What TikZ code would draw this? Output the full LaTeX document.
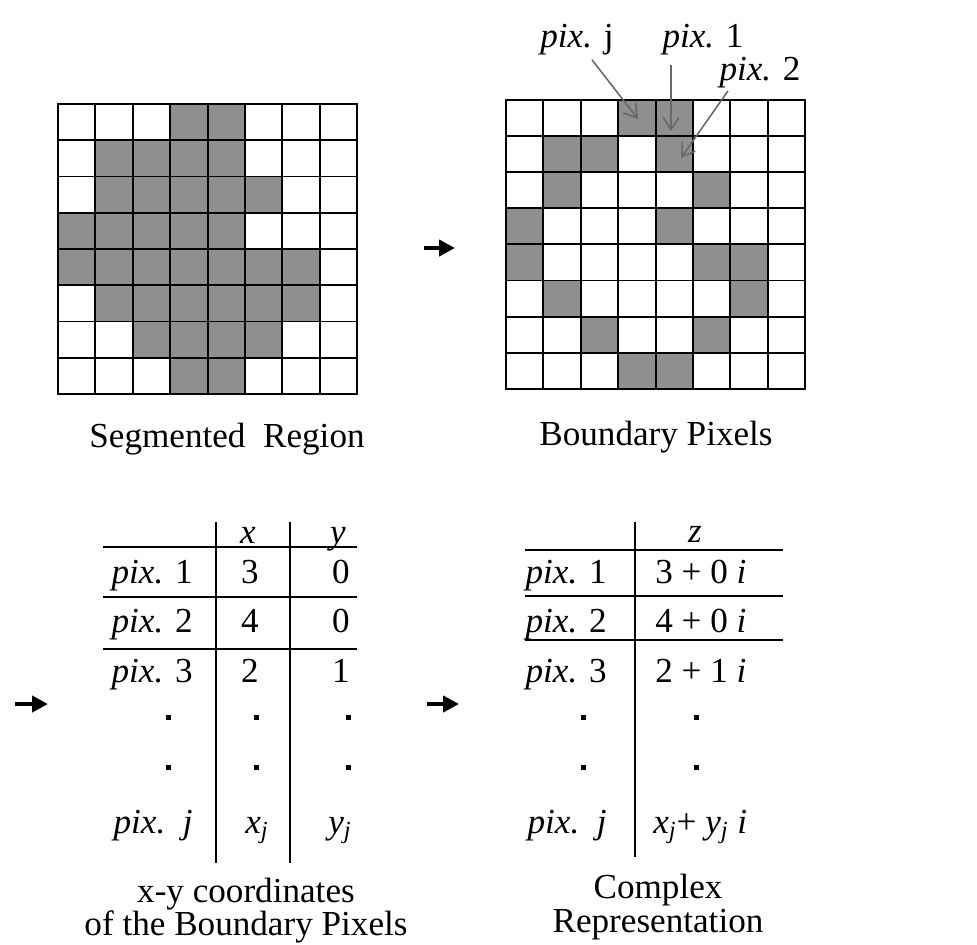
\documentclass[tikz,border=0pt]{standalone}
\usepackage{fontspec}
\setmainfont{Liberation Serif}
\usepackage{tikz}
\usetikzlibrary{arrows.meta, calc, positioning}
\usepackage{xcolor}
\definecolor{pixGray}{RGB}{143,143,143}
\definecolor{pointerGray}{RGB}{105,105,105}
\setlength{\lineskiplimit}{-20pt}

\begin{document}
\begin{tikzpicture}[
  x=0.02cm, y=-0.02cm,
  txt/.style={inner sep=0pt, font=\fontsize{20}{18}\selectfont},
  caption/.style={inner sep=0pt, align=center, anchor=north,
    font=\fontsize{20}{#1}\selectfont},
  dot/.style={fill=black, inner sep=0pt, minimum size=0.1cm},
  cellfill/.style={fill=pixGray},
  gridline/.style={line width=1.1pt, line cap=rect},
  rule/.style={line width=1.2pt},
  arr/.style={-{Triangle[length=9pt,width=9pt]}, line width=2.3pt},
  pointer/.style={-{Straight Barb[length=7pt,width=9pt]}, pointerGray, line width=0.9pt}
]
  \useasboundingbox (0,0) rectangle (977,944);

  % Segmented region
  \begin{scope}[shift={(58,104)}, x=0.748cm, y=-0.725cm]
    \foreach \r/\cs in {0/{3,4}, 1/{1,2,3,4}, 2/{1,2,3,4,5}, 3/{0,1,2,3,4},
                        4/{0,1,2,3,4,5,6}, 5/{1,2,3,4,5,6}, 6/{2,3,4,5}, 7/{3,4}}
      \foreach \c in \cs
        \fill[cellfill] (\c,\r) rectangle ++(1,1);
    \foreach \i in {0,...,8} {
      \draw[gridline] (\i,0) -- (\i,8);
      \draw[gridline] (0,\i) -- (8,\i);
    }
  \end{scope}

  % Boundary pixels
  \begin{scope}[shift={(506,100)}, x=0.748cm, y=-0.722cm]
    \foreach \r/\cs in {0/{3,4}, 1/{1,2,4}, 2/{1,5}, 3/{0,4},
                        4/{0,5,6}, 5/{1,6}, 6/{2,5}, 7/{3,4}}
      \foreach \c in \cs
        \fill[cellfill] (\c,\r) rectangle ++(1,1);
    \foreach \i in {0,...,8} {
      \draw[gridline] (\i,0) -- (\i,8);
      \draw[gridline] (0,\i) -- (8,\i);
    }
  \end{scope}

  \node[txt, anchor=base] (lblJ) at (577,47) {\textit{pix.} j};
  \node[txt, anchor=base] (lbl1) at (703,47) {\textit{pix.} 1};
  \node[txt, anchor=base] (lbl2) at (760,80) {\textit{pix.} 2};
  \coordinate (tipJ) at (638,119);
  \coordinate (tip1) at (671,131);
  \coordinate (tip2) at (681,158);
  \draw[pointer] ($(lblJ.south)+(15,5)$) -- (tipJ);
  \draw[pointer] ($(lbl1.south)+(-32,10)$) -- (tip1);
  \draw[pointer] ($(lbl2.south)+(-32,3)$) -- (tip2);

  \node[txt, anchor=base] (capSeg) at (227,447) {Segmented\ \ Region};
  \node[txt, anchor=base] (capBnd) at (656,445) {Boundary Pixels};

  \coordinate (a1s) at (424,248);
  \coordinate (a1e) at (455,248);
  \draw[arr] (a1s) -- (a1e);

  % x-y table
  \draw[rule] (216,522) -- (216,863);
  \draw[rule] (290,522) -- (290,863);
  \foreach \yy in {547,597,649}
    \draw[rule] (103,\yy) -- (357,\yy);
  \node[txt, anchor=base] (hx) at (248,543) {\textit{x}};
  \node[txt, anchor=base] (hy) at (338,543) {\textit{y}};
  \foreach \n/\yy/\vx/\vy in {1/583/3/0, 2/632/4/0, 3/682/2/1} {
    \node[txt, anchor=base east] (xyp\n) at (193,\yy) {\textit{pix.} \n};
    \node[txt, anchor=base] (xyx\n) at (250,\yy) {\vx};
    \node[txt, anchor=base east] (xyy\n) at (350,\yy) {\vy};
  }
  \foreach \yy [count=\k] in {717,767} {
    \node[dot] (xyd\k a) at (168,\yy) {};
    \node[dot] (xyd\k b) at (256,\yy) {};
    \node[dot] (xyd\k c) at (348,\yy) {};
  }
  \node[txt, anchor=base east] (xypj) at (193,833) {\textit{pix.}\ \ \textit{j}};
  \node[txt, anchor=base] (xyxj) at (257,833) {\textit{x\textsubscript{j}}};
  \node[txt, anchor=base east] (xyyj) at (352,833) {\textit{y\textsubscript{j}}};
  \node[caption=18.5] (capXY) at (246,878)
    {x-y coordinates\\of the Boundary Pixels};

  \coordinate (a2s) at (15,704);
  \coordinate (a2e) at (48,704);
  \draw[arr] (a2s) -- (a2e);
  \coordinate (a3s) at (427,704);
  \coordinate (a3e) at (459,704);
  \draw[arr] (a3s) -- (a3e);

  % complex table
  \draw[rule] (635,522) -- (635,857);
  \foreach \yy in {550,596,640}
    \draw[rule] (525,\yy) -- (783,\yy);
  \node[txt, anchor=base] (hz) at (695,542) {\textit{z}};
  \foreach \n/\yy/\vx/\vy in {1/583/3/0, 2/632/4/0, 3/682/2/1} {
    \node[txt, anchor=base east] (cp\n) at (607,\yy) {\textit{pix.} \n};
    \node[txt, anchor=base west] (cz\n) at (655,\yy) {\vx{} + \vy{} \textit{i}};
  }
  \foreach \yy [count=\k] in {717,767} {
    \node[dot] (cd\k a) at (583,\yy) {};
    \node[dot] (cd\k b) at (696,\yy) {};
  }
  \node[txt, anchor=base east] (cpj) at (607,833) {\textit{pix.}\ \ \textit{j}};
  \node[txt, anchor=base west] (czj) at (653,833)
    {\textit{x\textsubscript{j}}+ \textit{y\textsubscript{j}} \textit{i}};
  \node[caption=19] (capCx) at (658,874) {Complex\\Representation};
\end{tikzpicture}
\end{document}
